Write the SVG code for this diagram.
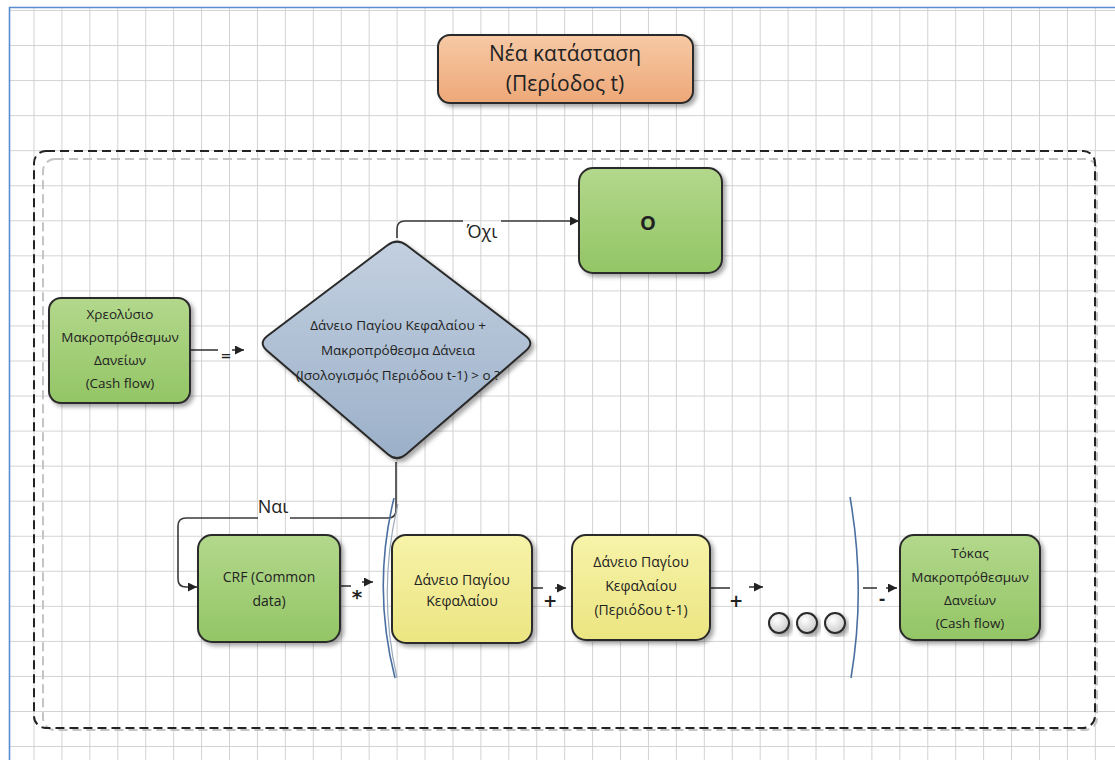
<svg xmlns="http://www.w3.org/2000/svg" width="1115" height="760" viewBox="0 0 1115 760">
<defs>
<style>
.txt{font-family:"Open Sans","Noto Sans","DejaVu Sans",sans-serif;fill:#222;text-anchor:middle}
.node{stroke:#2a2a2a;stroke-width:2;filter:url(#sh)}
.conn{fill:none;stroke:#3a3a3a;stroke-width:1.6}
.arr{fill:none;stroke:#3a3a3a;stroke-width:1.6;marker-end:url(#ah)}
.op{font-family:"DejaVu Sans",sans-serif;font-weight:bold;fill:#222;text-anchor:middle}
.lbl{font-family:"Open Sans","Noto Sans",sans-serif;fill:#222;text-anchor:middle;font-size:18px}
</style>
<pattern id="grid" x="33.5" y="10" width="27.93" height="35.05" patternUnits="userSpaceOnUse">
<path d="M0.5 0V35.05M0 0.5H27.93" stroke="#d2d2d2" stroke-width="1" fill="none"/>
</pattern>
<filter id="sh" x="-10%" y="-10%" width="130%" height="130%">
<feDropShadow dx="3" dy="3" stdDeviation="2" flood-color="#000" flood-opacity="0.35"/>
</filter>
<linearGradient id="gGreen" x1="0" y1="0" x2="0" y2="1"><stop offset="0" stop-color="#b3d88c"/><stop offset="1" stop-color="#93c565"/></linearGradient>
<linearGradient id="gYellow" x1="0" y1="0" x2="0" y2="1"><stop offset="0" stop-color="#f7f3a9"/><stop offset="1" stop-color="#ebe581"/></linearGradient>
<linearGradient id="gOrange" x1="0" y1="0" x2="0" y2="1"><stop offset="0" stop-color="#f6c9a5"/><stop offset="1" stop-color="#eea878"/></linearGradient>
<linearGradient id="gBlue" x1="0" y1="0" x2="0" y2="1"><stop offset="0" stop-color="#c3d0e0"/><stop offset="1" stop-color="#9bb0c9"/></linearGradient>
<radialGradient id="gCirc" cx="0.4" cy="0.35" r="0.7"><stop offset="0" stop-color="#ffffff"/><stop offset="1" stop-color="#c8c8c8"/></radialGradient>
<marker id="ah" viewBox="0 0 10 10" refX="10" refY="5" markerWidth="9" markerHeight="9" markerUnits="userSpaceOnUse" orient="auto">
<path d="M0,0 L10,5 L0,10 z" fill="#222"/>
</marker>
</defs>

<rect width="1115" height="760" fill="#ffffff"/>
<rect x="9" y="7" width="1106" height="753" fill="url(#grid)"/>
<path d="M9.5 760V7.5H1115" fill="none" stroke="#5b8bd0" stroke-width="1.6"/>

<g id="container">
<rect x="43" y="159" width="1054" height="571" rx="12" fill="none" stroke="#c4c4c4" stroke-width="2" stroke-dasharray="9 5"/>
<rect x="34" y="151" width="1061" height="577" rx="12" fill="none" stroke="#222" stroke-width="2" stroke-dasharray="9 5"/>
</g>

<g id="connectors">
<path class="conn" d="M190 350H218"/>
<path class="arr" d="M232 350H244"/>
<text class="op" x="226" y="360" font-size="13">=</text>

<path class="conn" d="M397 238V229Q397 221 405 221H463"/>
<path class="arr" d="M501 221H579"/>
<text class="lbl" x="482" y="238">Όχι</text>

<path class="conn" d="M396 462V510Q396 518 388 518H290"/>
<path class="arr" d="M258 518H186Q178 518 178 526V579Q178 587 186 587H197"/>
<text class="lbl" x="273" y="513">Ναι</text>

<path class="conn" d="M340 586H351"/>
<path class="arr" d="M362 582H373"/>
<text class="op" x="357" y="604" font-size="20">*</text>

<path class="conn" d="M532 588H543"/>
<path class="arr" d="M555 588H566"/>
<text class="op" x="550" y="607" font-size="17">+</text>

<path class="conn" d="M710 588H730"/>
<path class="arr" d="M749 587H763"/>
<text class="op" x="736" y="607" font-size="17">+</text>

<path class="conn" d="M863 588H877"/>
<path class="arr" d="M886 588H897"/>
<text class="op" x="882" y="604" font-size="16">-</text>
</g>

<g id="brackets">
<path d="M398 504Q377 590 397 678" fill="none" stroke="#9aa8b8" stroke-width="1.2"/>
<path d="M394 498Q372 588 395 678" fill="none" stroke="#4a6fa0" stroke-width="1.6"/>
<path d="M850 497Q866 588 851 678" fill="none" stroke="#4a6fa0" stroke-width="1.6"/>
</g>

<g id="title">
<rect class="node" x="438" y="35" width="255" height="68" rx="12" fill="url(#gOrange)"/>
<text class="txt" x="565" y="61" font-size="21">Νέα κατάσταση</text>
<text class="txt" x="565" y="91" font-size="21">(Περίοδος t)</text>
</g>

<g id="zero">
<rect class="node" x="579" y="168" width="143" height="105" rx="14" fill="url(#gGreen)"/>
<text class="txt" x="648" y="230" font-size="20" font-weight="bold">O</text>
</g>

<g id="xreolysio">
<rect class="node" x="49" y="298" width="141" height="105" rx="12" fill="url(#gGreen)"/>
<text class="txt" x="120" y="319" font-size="13.5">Χρεολύσιο</text>
<text class="txt" x="120" y="342" font-size="13.5">Μακροπρόθεσμων</text>
<text class="txt" x="120" y="365" font-size="13.5">Δανείων</text>
<text class="txt" x="120" y="388" font-size="13.5">(Cash flow)</text>
</g>

<g id="decision">
<path class="node" fill="url(#gBlue)" d="M406.6 245.3L525.4 335.7Q535 343 525.9 350.8L406.1 454.2Q397 462 387.9 454.2L267.1 350.8Q258 343 267.6 335.7L387.4 245.3Q397 238 406.6 245.3Z"/>
<text class="txt" x="398" y="330" font-size="13.5">Δάνειο Παγίου Κεφαλαίου +</text>
<text class="txt" x="398" y="355" font-size="13.5">Μακροπρόθεσμα Δάνεια</text>
<text class="txt" x="398" y="380" font-size="13.5">(Ισολογισμός Περιόδου t-1) &gt; o ?</text>
</g>

<g id="crf">
<rect class="node" x="198" y="535" width="142" height="107" rx="14" fill="url(#gGreen)"/>
<text class="txt" x="269" y="582" font-size="14">CRF (Common</text>
<text class="txt" x="269" y="606" font-size="14">data)</text>
</g>

<g id="daneio1">
<rect class="node" x="392" y="535" width="140" height="108" rx="14" fill="url(#gYellow)"/>
<text class="txt" x="462" y="585" font-size="14">Δάνειο Παγίου</text>
<text class="txt" x="462" y="606" font-size="14">Κεφαλαίου</text>
</g>

<g id="daneio2">
<rect class="node" x="572" y="535" width="138" height="105" rx="14" fill="url(#gYellow)"/>
<text class="txt" x="641" y="567" font-size="14">Δάνειο Παγίου</text>
<text class="txt" x="641" y="591" font-size="14">Κεφαλαίου</text>
<text class="txt" x="641" y="615" font-size="14">(Περιόδου t-1)</text>
</g>

<g id="ellipsis">
<circle class="node" cx="779" cy="623" r="10" fill="url(#gCirc)" stroke-width="1.5"/>
<circle class="node" cx="807" cy="623" r="10" fill="url(#gCirc)" stroke-width="1.5"/>
<circle class="node" cx="835" cy="623" r="10" fill="url(#gCirc)" stroke-width="1.5"/>
</g>

<g id="tokos">
<rect class="node" x="900" y="535" width="140" height="105" rx="14" fill="url(#gGreen)"/>
<text class="txt" x="970" y="558" font-size="13.5">Τόκας</text>
<text class="txt" x="970" y="582" font-size="13.5">Μακροπρόθεσμων</text>
<text class="txt" x="970" y="605" font-size="13.5">Δανείων</text>
<text class="txt" x="970" y="628" font-size="13.5">(Cash flow)</text>
</g>
</svg>
